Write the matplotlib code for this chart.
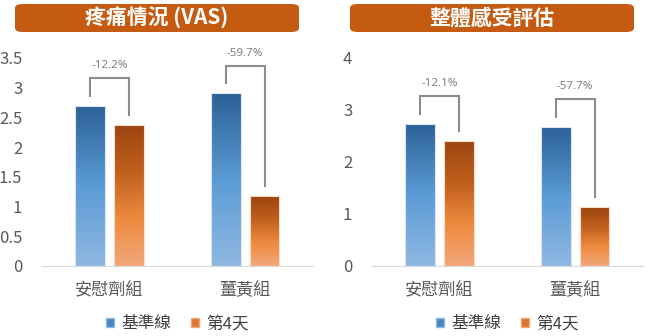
import numpy as np
import matplotlib

matplotlib.use("Agg")
import matplotlib.pyplot as plt  # noqa: E402
from matplotlib.colors import LinearSegmentedColormap  # noqa: E402
from matplotlib.patches import FancyBboxPatch, Patch  # noqa: E402

plt.rcParams["font.family"] = ["Noto Sans CJK TC", "DejaVu Sans"]

groups = ["安慰劑組", "薑黃組"]
series_names = ["基準線", "第4天"]

pain_title = "疼痛情況 (VAS)"
pain_baseline = [2.70, 2.91]
pain_day4 = [2.38, 1.17]
pain_change = ["-12.2%", "-59.7%"]
pain_ticks = [0, 0.5, 1, 1.5, 2, 2.5, 3, 3.5]

feel_title = "整體感受評估"
feel_baseline = [2.74, 2.68]
feel_day4 = [2.40, 1.13]
feel_change = ["-12.1%", "-57.7%"]
feel_ticks = [0, 1, 2, 3, 4]

blue_cmap = LinearSegmentedColormap.from_list(
    "b", ["#8fb8e2", "#5b9bd5", "#2b6196"])
orange_cmap = LinearSegmentedColormap.from_list(
    "o", ["#f2a77a", "#ed8a3e", "#c0601e", "#9c4410"])


def gradient_bars(ax, bars, cmap):
    grad = np.linspace(0, 1, 256).reshape(-1, 1)
    for b in bars:
        x, y, w, h = b.get_x(), b.get_y(), b.get_width(), b.get_height()
        im = ax.imshow(grad, cmap=cmap, origin="lower", aspect="auto",
                       extent=(x, x + w, y, y + h), zorder=2)
        im.set_clip_path(b)
        b.set_facecolor("none")


def panel(fig, rect, title, box_x, base, day4, change, ticks):
    ax = fig.add_axes(rect)
    x = np.arange(len(groups))
    w = 0.22
    off = 0.143
    b1 = ax.bar(x - off, base, w, edgecolor="#dce6f2", linewidth=0.8, zorder=3)
    b2 = ax.bar(x + off, day4, w, edgecolor="#f8dcc8", linewidth=0.8, zorder=3)
    gradient_bars(ax, b1, blue_cmap)
    gradient_bars(ax, b2, orange_cmap)

    ymax = ticks[-1]
    ax.set_xlim(-0.5, len(groups) - 0.5)
    ax.set_ylim(0, ymax)
    ax.set_yticks(ticks)
    ax.set_yticklabels([f"{t:g}" for t in ticks])
    ax.set_xticks(x)
    ax.set_xticklabels(groups)
    ax.tick_params(axis="y", length=0, pad=14, labelsize=12, labelcolor="#595959")
    ax.tick_params(axis="x", length=0, pad=11, labelsize=12.3, labelcolor="#595959")
    for s in ["top", "right", "left"]:
        ax.spines[s].set_visible(False)
    ax.spines["bottom"].set_color("#d9d9d9")

    # brackets showing the change between baseline and day 4
    for i in range(len(groups)):
        top = max(base[i], day4[i]) + 0.132 * ymax
        gap = 0.048 * ymax
        xl, xr = i - off, i + off
        ax.plot([xl, xl, xr, xr], [base[i] + gap, top, top, day4[i] + gap],
                color="#8c8c8c", lw=1.5, solid_joinstyle="miter", zorder=4,
                clip_on=False)
        ax.text(i, top + 0.06 * ymax, change[i], ha="center", va="center",
                fontsize=8.3, color="#7f7f7f", family=["Noto Sans", "DejaVu Sans"])

    # title box
    box = FancyBboxPatch((box_x / 650, 1 - 32 / 336), 284 / 650, 28 / 336,
                         boxstyle="round,pad=0,rounding_size=0.012",
                         transform=fig.transFigure, facecolor="#c55a11",
                         edgecolor="none")
    fig.patches.append(box)
    fig.text((box_x + 142) / 650, 1 - 18 / 336, title, ha="center", va="center",
             color="white", fontsize=15, fontweight="bold")

    handles = [Patch(facecolor="#4a86c0", edgecolor="#8fb8e2"),
               Patch(facecolor="#dd7430", edgecolor="#f2a77a")]
    ax.legend(handles, series_names, loc="upper center",
              bbox_to_anchor=(0.5, -0.165), ncol=2, frameon=False,
              fontsize=12, handlelength=0.5, handleheight=0.5,
              handletextpad=0.4, columnspacing=1.2, labelcolor="#404040")
    return ax


fig = plt.figure(figsize=(6.5, 3.36), dpi=100)
panel(fig, [41.7 / 650, 70 / 336, 271.3 / 650, 208 / 336],
      pain_title, 15, pain_baseline, pain_day4, pain_change, pain_ticks)
panel(fig, [371.7 / 650, 70 / 336, 271.3 / 650, 208 / 336],
      feel_title, 350, feel_baseline, feel_day4, feel_change, feel_ticks)

fig.savefig("out.png", dpi=100)
